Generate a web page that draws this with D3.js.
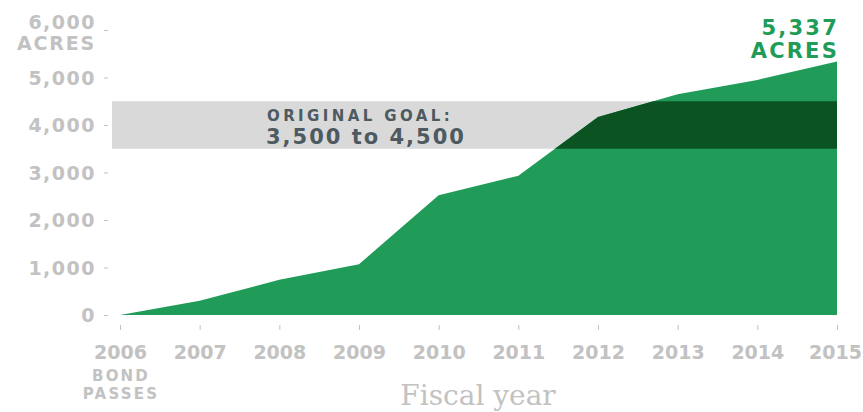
<!DOCTYPE html>
<html><head><meta charset="utf-8">
<script src="https://cdn.jsdelivr.net/npm/d3@7"></script>
<style>body{margin:0;background:#fff}svg{display:block}</style>
</head><body>
<script>
const years = [2006, 2007, 2008, 2009, 2010, 2011, 2012, 2013, 2014, 2015];
const acres = [0, 300, 740, 1070, 2520, 2930, 4170, 4650, 4950, 5337];
const yTicks = [0, 1000, 2000, 3000, 4000, 5000, 6000];
const goal = [3500, 4500];

const W = 863, H = 412;
const svg = d3.select("body").append("svg").attr("width", W).attr("height", H);
const x = d3.scaleLinear().domain([2006, 2015]).range([120, 837]);
const y = d3.scaleLinear().domain([0, 6000]).range([315, 30]);
const grey = "#c2c2c2";
const font = "'DejaVu Sans', sans-serif";

// goal band
svg.append("rect").attr("x", 112).attr("width", x(2015) - 112)
  .attr("y", y(goal[1])).attr("height", y(goal[0]) - y(goal[1])).attr("fill", "#d9d9d9");

const area = d3.area().x((d, i) => x(years[i])).y0(y(0)).y1(d => y(d));
svg.append("defs").append("clipPath").attr("id", "ac").append("path").attr("d", area(acres));
svg.append("path").attr("d", area(acres)).attr("fill", "#209c58");
svg.append("rect").attr("clip-path", "url(#ac)").attr("x", 112).attr("width", x(2015) - 112)
  .attr("y", y(goal[1])).attr("height", y(goal[0]) - y(goal[1])).attr("fill", "#0b5422");

// goal text
svg.append("text").attr("x", 267).attr("y", 121).text("ORIGINAL GOAL:")
  .attr("font-family", font).attr("font-weight", 700).attr("font-size", 15).attr("letter-spacing", 3.4).attr("fill", "#4e5a61");
svg.append("text").attr("x", 266).attr("y", 144).text("3,500 to 4,500")
  .attr("font-family", font).attr("font-weight", 700).attr("font-size", 21).attr("letter-spacing", 2).attr("fill", "#4e5a61");

// y axis
const yAxis = svg.append("g").attr("transform", "translate(110,0)")
  .call(d3.axisLeft(y).tickValues(yTicks).tickSize(4).tickPadding(10).tickFormat(d3.format(",")));
yAxis.select(".domain").remove();
yAxis.selectAll(".tick line").attr("stroke", grey).attr("transform", "translate(-2,0)");
yAxis.selectAll(".tick text").attr("fill", grey).attr("font-family", font).attr("font-weight", 700)
  .attr("font-size", 19).attr("letter-spacing", 1.5).attr("dy", "0.35em")
  .attr("transform", d => d === 6000 ? "translate(0,-8)" : null);
svg.append("text").attr("x", 96).attr("y", 50).attr("text-anchor", "end").text("ACRES")
  .attr("fill", grey).attr("font-family", font).attr("font-weight", 700).attr("font-size", 19).attr("letter-spacing", 1.8);

// x axis
const xAxis = svg.append("g").attr("transform", "translate(0,325)")
  .call(d3.axisBottom(x).tickValues(years).tickSize(5).tickPadding(16).tickFormat(d3.format("d")));
xAxis.select(".domain").remove();
xAxis.selectAll(".tick line").attr("stroke", grey);
xAxis.selectAll(".tick text").attr("fill", grey).attr("font-family", font).attr("font-weight", 700)
  .attr("font-size", 19).attr("dx", d => d === 2015 ? -2 : 0);
["BOND", "PASSES"].forEach((t, i) => svg.append("text").attr("x", x(2006) + 1).attr("y", 381 + i * 18)
  .attr("text-anchor", "middle").text(t).attr("fill", grey).attr("font-family", font)
  .attr("font-weight", 700).attr("font-size", 15).attr("letter-spacing", 2.2));

svg.append("text").attr("x", 478).attr("y", 405).attr("text-anchor", "middle").text("Fiscal year")
  .attr("fill", grey).attr("font-family", "'DejaVu Serif', serif").attr("font-size", 28);

// end label
["5,337", "ACRES"].forEach((t, i) => svg.append("text").attr("x", x(2015) + 2).attr("y", 35 + i * 23)
  .attr("text-anchor", "end").text(t).attr("fill", "#209c58").attr("font-family", font)
  .attr("font-weight", 700).attr("font-size", 21).attr("letter-spacing", 2.2));
</script>
</body></html>
